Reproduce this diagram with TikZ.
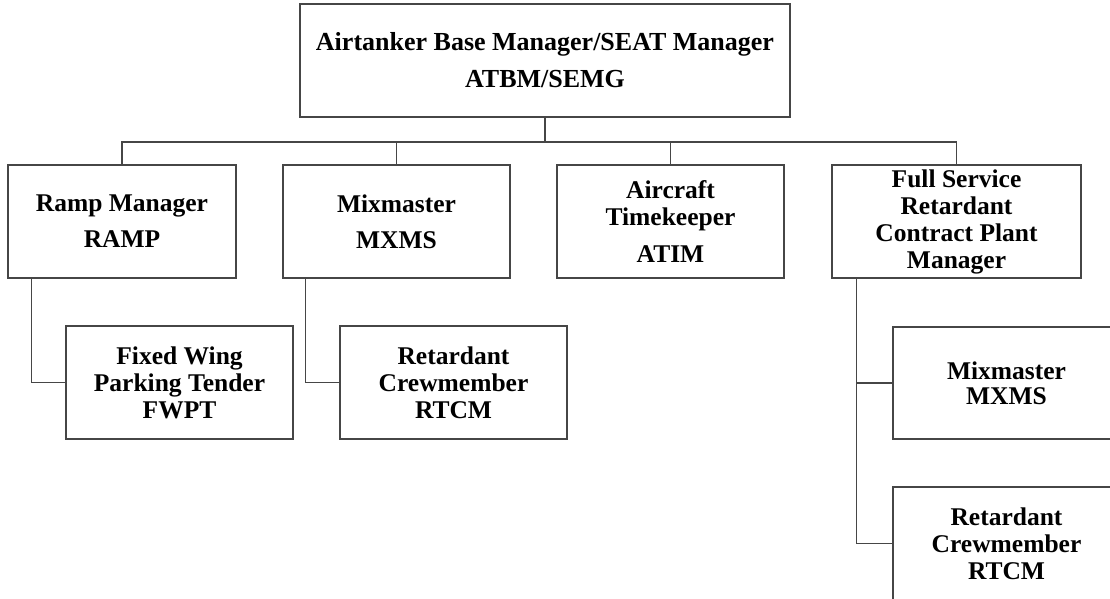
\documentclass[tikz,border=0pt]{standalone}
\usepackage{fontspec}
\setmainfont{Liberation Serif}
\usetikzlibrary{calc}
\definecolor{linegray}{RGB}{70,70,70}
\tikzset{
  box/.style={draw=linegray, line width=1.3pt, inner sep=0pt, minimum width=227pt, minimum height=113pt,
    align=center, font=\fontsize{25.5}{27}\selectfont\bfseries, text=black},
  conn/.style={draw=linegray, line width=1.3pt}
}
\begin{document}
\begin{tikzpicture}[x=1pt,y=-1pt]
\useasboundingbox (0,0) rectangle (1110,598);
\clip (0,0) rectangle (1110,598);
\fill[white] (0,0) rectangle (1110,598);
\node[box, minimum width=490pt, font=\fontsize{26}{27}\selectfont\bfseries] (top) at (545,60.5) {Airtanker Base Manager/SEAT Manager\\[10pt]ATBM/SEMG};
\node[box, minimum width=228pt] (ramp) at (122,221.5) {Ramp Manager\\[9pt]RAMP};
\node[box] (mix) at (396.5,221.5) {Mixmaster\\[9pt]MXMS};
\node[box] (atim) at (670.5,221.5) {Aircraft\\Timekeeper\\[10pt]ATIM};
\node[box, minimum width=249pt] (fs) at (956.5,221.5) {Full Service\\Retardant\\Contract Plant\\Manager};
\node[box] (fwpt) at (179.5,382.5) {Fixed Wing\\Parking Tender\\FWPT};
\node[box] (rtcm) at (453.5,382.5) {Retardant\\Crewmember\\RTCM};
\node[box, minimum height=112pt] (mix2) at (1006.5,383) {Mixmaster\\[-2pt]MXMS};
\node[box] (rtcm2) at (1006.5,543.5) {Retardant\\Crewmember\\RTCM};
\coordinate (bus) at (545,142);
\draw[conn] (top.south) -- (bus);
\foreach \n in {ramp,mix,atim,fs} \draw[conn] (bus) -| (\n.north);
\draw[conn] ($(ramp.south west)+(24,0)$) |- (fwpt.west);
\draw[conn] ($(mix.south west)+(23,0)$) |- (rtcm.west);
\draw[conn] ($(fs.south west)+(25,0)$) |- (mix2.west);
\draw[conn] ($(fs.south west)+(25,0)$) |- (rtcm2.west);
\end{tikzpicture}
\end{document}
